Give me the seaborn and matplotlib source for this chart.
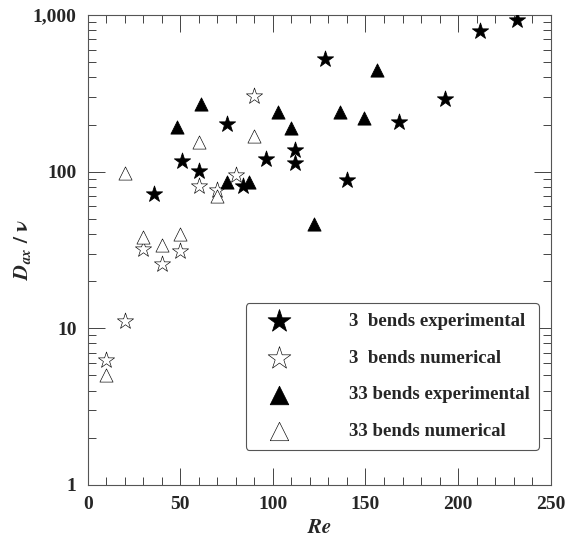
import numpy as np
import pandas as pd
import matplotlib
matplotlib.use('Agg')
import matplotlib.pyplot as plt
import seaborn as sns
from matplotlib.ticker import MultipleLocator, LogLocator, FuncFormatter, NullFormatter

# 3 bends experimental (filled stars)
re_3exp = [36, 51, 60, 75, 84, 96, 112, 112, 128, 140, 168, 193, 212, 232]
d_3exp = [72, 117, 101, 202, 81, 121, 138, 114, 525, 89, 208, 292, 790, 925]

# 3 bends numerical (open stars)
re_3num = [10, 20, 30, 40, 50, 60, 70, 80, 90]
d_3num = [6.25, 11.1, 32, 25.6, 31, 81, 76, 95, 305]

# 33 bends experimental (filled triangles)
re_33exp = [48, 61, 75, 87, 103, 110, 122, 136, 149, 156]
d_33exp = [194, 271, 86, 86, 241, 191, 46, 241, 221, 446]

# 33 bends numerical (open triangles)
re_33num = [10, 20, 30, 40, 50, 60, 70, 90]
d_33num = [5.0, 98, 38.5, 34, 40, 155, 70, 170]

series = [
    ('3  bends experimental', re_3exp, d_3exp, '*', True, 150),
    ('3  bends numerical', re_3num, d_3num, '*', False, 150),
    ('33 bends experimental', re_33exp, d_33exp, '^', True, 90),
    ('33 bends numerical', re_33num, d_33num, '^', False, 90),
]

sns.set_style('ticks')
plt.rcParams['font.family'] = ['Liberation Serif', 'DejaVu Serif']
plt.rcParams['font.weight'] = 'bold'
plt.rcParams['mathtext.fontset'] = 'stix'

fig = plt.figure(figsize=(5.7, 5.37), dpi=100)
ax = fig.add_axes([0.154, 0.097, 0.812, 0.875])

for label, xs, ys, mk, filled, size in series:
    df = pd.DataFrame({'Re': xs, 'D': ys})
    sns.scatterplot(data=df, x='Re', y='D', ax=ax, marker=mk, s=size,
                    facecolor='black' if filled else 'white',
                    edgecolor='black', linewidth=0.6 if filled else 0.45,
                    label=label, zorder=3)

ax.set_yscale('log')
ax.set_xlim(0, 250)
ax.set_ylim(1, 1000)

ax.xaxis.set_major_locator(MultipleLocator(50))
ax.xaxis.set_minor_locator(MultipleLocator(10))
ax.yaxis.set_major_locator(LogLocator(base=10))
ax.yaxis.set_minor_locator(LogLocator(base=10, subs=np.arange(2, 10)))
ax.yaxis.set_minor_formatter(NullFormatter())
ax.yaxis.set_major_formatter(FuncFormatter(lambda v, p: f'{v:,.0f}'))

ax.tick_params(which='both', direction='in', top=True, right=True,
               color='#444444', width=0.7)
ax.tick_params(which='major', length=12, labelsize=14, pad=8)
ax.tick_params(which='minor', length=6)
for lab in ax.get_xticklabels() + ax.get_yticklabels():
    lab.set_fontweight('bold')

for sp in ax.spines.values():
    sp.set_color('#555555')
    sp.set_linewidth(0.8)

ax.set_xlabel(r'$\mathbfit{Re}$', fontsize=15, labelpad=4)
ax.set_ylabel(r'$\mathbfit{D}_{\mathbfit{ax}}\ /\ \mathbf{\nu}$', fontsize=15, labelpad=0)

leg = ax.legend(loc='lower right', bbox_to_anchor=(0.975, 0.075), borderaxespad=0,
                fancybox=True, framealpha=1, edgecolor='#555555',
                markerscale=1.4, labelspacing=1.05, handletextpad=2.4,
                borderpad=0.5, handlelength=2.6,
                prop={'family': 'Liberation Serif', 'weight': 'bold', 'size': 13.5})
leg.get_frame().set_linewidth(0.8)

fig.savefig('out.png', dpi=100)
